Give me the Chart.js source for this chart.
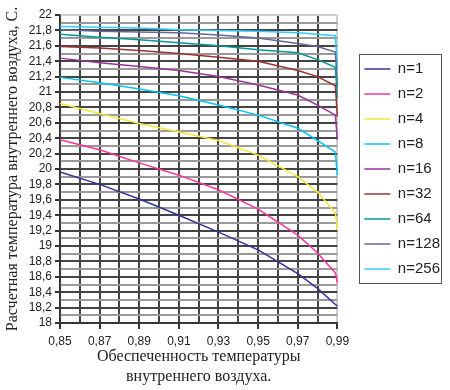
<!DOCTYPE html>
<html>
<head>
<meta charset="utf-8">
<script src="https://cdn.jsdelivr.net/npm/chart.js@4/dist/chart.umd.min.js"></script>
<style>
    html, body { margin: 0; background: #fff; }
</style>
</head>
<body>
<canvas id="Chart" width="450" height="390"></canvas>
<script>
// data
const probability = [0.85, 0.87, 0.89, 0.91, 0.93, 0.95, 0.97, 0.98, 0.989, 0.99];
const n1   = [19.96, 19.80, 19.61, 19.40, 19.18, 18.95, 18.64, 18.45, 18.24, 18.22];
const n2   = [20.38, 20.25, 20.08, 19.92, 19.73, 19.48, 19.14, 18.91, 18.65, 18.52];
const n4   = [20.85, 20.72, 20.59, 20.48, 20.37, 20.18, 19.90, 19.70, 19.43, 19.21];
const n8   = [21.19, 21.12, 21.04, 20.95, 20.83, 20.70, 20.53, 20.37, 20.22, 19.92];
const n16  = [21.44, 21.38, 21.33, 21.28, 21.20, 21.09, 20.96, 20.83, 20.70, 20.38];
const n32  = [21.59, 21.57, 21.54, 21.50, 21.45, 21.40, 21.28, 21.20, 21.08, 20.68];
const n64  = [21.75, 21.71, 21.68, 21.64, 21.60, 21.55, 21.51, 21.42, 21.32, 20.92];
const n128 = [21.81, 21.79, 21.78, 21.77, 21.74, 21.70, 21.63, 21.59, 21.52, 21.06];
const n256 = [21.85, 21.84, 21.83, 21.81, 21.80, 21.79, 21.77, 21.75, 21.73, 21.30];

const seriesNames = ["n=1", "n=2", "n=4", "n=8", "n=16", "n=32", "n=64", "n=128", "n=256"];
const seriesData = [n1, n2, n4, n8, n16, n32, n64, n128, n256];
const seriesColors = ["#333399", "#ff3399", "#f5e53a", "#00c4f4", "#993399",
                      "#993333", "#009999", "#666699", "#33ccff"];

const yMin = 18, yMax = 22, yStep = 0.1;
const xMin = 0.85, xMax = 0.99, xStep = 0.01;

const serif = "'Liberation Serif', 'DejaVu Serif', serif";
const sans = "'Liberation Sans', Arial, sans-serif";

const fmt = v => v.toString().replace(".", ",");

// frame round the legend
const legendBox = {
    id: "legendBox",
    afterDraw(chart) {
        const boxes = chart.legend.legendHitBoxes;
        if (!boxes || !boxes.length) return;
        const left = Math.min(...boxes.map(b => b.left)) - 5;
        const right = Math.max(...boxes.map(b => b.left + b.width)) + 1;
        const top = Math.min(...boxes.map(b => b.top)) - 8;
        const bottom = Math.max(...boxes.map(b => b.top + b.height)) + 6;
        const ctx = chart.ctx;
        ctx.save();
        ctx.strokeStyle = "#555";
        ctx.lineWidth = 1;
        ctx.strokeRect(Math.round(left) + 0.5, Math.round(top) + 0.5,
                       Math.round(right - left), Math.round(bottom - top));
        ctx.restore();
    }
};

const ctx = document.getElementById("Chart");
const chart = new Chart(ctx, {
    type: "line",
    data: {
        datasets: seriesNames.map((name, i) => ({
            label: name,
            data: probability.map((p, j) => ({ x: p, y: seriesData[i][j] })),
            borderColor: seriesColors[i],
            backgroundColor: seriesColors[i],
            borderWidth: 1.5,
            pointRadius: 0,
            tension: 0,
            clip: false,
        })),
    },
    options: {
        responsive: false,
        animation: false,
        layout: { padding: { top: 15, left: 0, right: 0, bottom: 0 } },
        plugins: {
            tooltip: { enabled: false },
            legend: {
                position: "right",
                fullSize: false,
                maxWidth: 120,
                labels: {
                    usePointStyle: true,
                    pointStyle: "line",
                    pointStyleWidth: 26,
                    padding: 10,
                    color: "#222",
                    font: { family: sans, size: 15 },
                },
            },
        },
        scales: {
            x: {
                type: "linear",
                min: xMin,
                max: xMax,
                afterFit: s => { s.height = 67; },
                ticks: {
                    stepSize: xStep,
                    autoSkip: false,
                    maxRotation: 0,
                    padding: 5,
                    color: "#222",
                    font: { family: sans, size: 12 },
                    callback: v => {
                        const k = Math.round(v * 100);
                        return (k - 85) % 2 === 0 ? fmt(k / 100) : "";
                    },
                },
                grid: {
                    lineWidth: 2,
                    color: c => Math.round(c.tick.value * 100) === 99 ? "#cfcfcf" : "#444",
                    tickColor: c => (Math.round(c.tick.value * 100) - 85) % 2 === 0 ? "#333" : "rgba(0,0,0,0)",
                    tickLength: 6,
                },
                border: { color: "#333", width: 1.5 },
                title: {
                    display: true,
                    text: ["Обеспеченность температуры", "внутреннего воздуха."],
                    color: "#222",
                    font: { family: serif, size: 16, lineHeight: 1.25 },
                    padding: { top: 0, bottom: 3 },
                },
            },
            y: {
                min: yMin,
                max: yMax,
                afterFit: s => { s.width = 60; },
                ticks: {
                    stepSize: yStep,
                    autoSkip: false,
                    padding: 3,
                    color: "#222",
                    font: { family: sans, size: 12 },
                    callback: v => {
                        const k = Math.round(v * 10);
                        return k % 2 === 0 ? fmt(k / 10) : "";
                    },
                },
                grid: {
                    lineWidth: 2,
                    color: c => {
                        const k = Math.round(c.tick.value * 10);
                        if (k === 220) return "#cfcfcf";
                        return k % 2 === 0 ? "#444" : "#9a9a9a";
                    },
                    tickColor: c => Math.round(c.tick.value * 10) % 2 === 0 ? "#333" : "rgba(0,0,0,0)",
                    tickLength: 5,
                },
                border: { color: "#333", width: 1.5 },
                title: {
                    display: true,
                    text: "Расчетная температура внутреннего воздуха, С.",
                    color: "#222",
                    font: { family: serif, size: 16, lineHeight: 1.25 },
                    padding: { top: 3, bottom: 0 },
                },
            },
            // empty axis that keeps a gap between the plot and the legend
            gap: {
                type: "linear",
                position: "right",
                display: true,
                afterFit: s => { s.width = 17; },
                ticks: { display: false },
                grid: { display: false, drawTicks: false },
                border: { display: false },
            },
        },
    },
    plugins: [legendBox],
});
</script>
</body>
</html>
